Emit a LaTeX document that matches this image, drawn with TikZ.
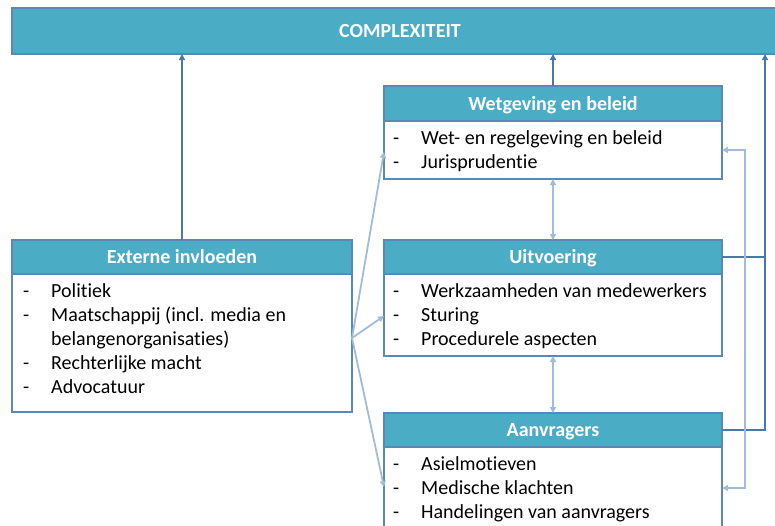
\documentclass[tikz,border=0pt]{standalone}
\usepackage{fontspec}
\setmainfont[Ligatures={NoCommon}]{Carlito}
\usetikzlibrary{arrows.meta}
\definecolor{hdrfill}{HTML}{4BACC6}
\definecolor{boxline}{HTML}{5A88B8}
\definecolor{darkarr}{HTML}{4A78A8}
\definecolor{lightarr}{HTML}{A2BCD8}
\tikzset{
  hdr/.style={rectangle, draw=boxline, fill=hdrfill, line width=1.2pt, inner sep=0pt, outer sep=0pt, text=white, font=\fontsize{20}{22}\selectfont\bfseries, text height=13pt, text depth=0pt, anchor=north west},
  bodybox/.style={rectangle, draw=boxline, fill=white, line width=1.2pt, inner sep=0pt, outer sep=0pt, anchor=north west},
  dashtxt/.style={anchor=base west, inner sep=0pt, font=\fontsize{20}{22}\selectfont},
  itemtxt/.style={anchor=base west, inner sep=0pt, font=\fontsize{20}{22}\selectfont},
  dk/.style={draw=darkarr, line width=1.8pt},
  dkarr/.style={dk, -{Triangle[length=6pt,width=6pt]}},
  lt/.style={draw=lightarr, line width=1.8pt},
  ltarr/.style={lt, -{Triangle[length=6pt,width=6pt]}},
  ltdbl/.style={lt, {Triangle[length=6pt,width=6pt]}-{Triangle[length=6pt,width=6pt]}}
}
\begin{document}
\begin{tikzpicture}[x=1pt,y=-1pt]
\useasboundingbox (0,0) rectangle (775,525);
\clip (0,0) rectangle (775,525);
% top box
\node[hdr, minimum width=790pt, minimum height=46pt] (top) at (12,8) {};
\node[font=\fontsize{20}{22}\selectfont\bfseries, text=white, inner sep=0pt, text height=13pt, text depth=0pt] (toptxt) at (400,31) {COMPLEXITEIT};
% Wetgeving
\node[hdr, minimum width=338pt, minimum height=35pt] (wh) at (384,86) {Wetgeving en beleid};
\node[bodybox, minimum width=338pt, minimum height=58pt] (wb) at (384,121) {};
\node[dashtxt] (wd1) at (393,144) {-};
\node[itemtxt] (wt1) at (421,144) {Wet- en regelgeving en beleid};
\node[dashtxt] (wd2) at (393,168) {-};
\node[itemtxt] (wt2) at (421,168) {Jurisprudentie};
% Uitvoering
\node[hdr, minimum width=338pt, minimum height=34pt] (uh) at (384,240) {Uitvoering};
\node[bodybox, minimum width=338pt, minimum height=82pt] (ub) at (384,274) {};
\node[dashtxt] (ud1) at (393,297) {-};
\node[itemtxt] (ut1) at (421,297) {Werkzaamheden van medewerkers};
\node[dashtxt] (ud2) at (393,321) {-};
\node[itemtxt] (ut2) at (421,321) {Sturing};
\node[dashtxt] (ud3) at (393,345) {-};
\node[itemtxt] (ut3) at (421,345) {Procedurele aspecten};
% Aanvragers
\node[hdr, minimum width=338pt, minimum height=34pt] (ah) at (384,413) {Aanvragers};
\node[bodybox, minimum width=338pt, minimum height=140pt] (ab) at (384,447) {};
\node[dashtxt] (ad1) at (393,470) {-};
\node[itemtxt] (at1) at (421,470) {Asielmotieven};
\node[dashtxt] (ad2) at (393,494) {-};
\node[itemtxt] (at2) at (421,494) {Medische klachten};
\node[dashtxt] (ad3) at (393,518) {-};
\node[itemtxt] (at3) at (421,518) {Handelingen van aanvragers};
% Externe invloeden
\node[hdr, minimum width=340pt, minimum height=34pt] (eh) at (12,240) {Externe invloeden};
\node[bodybox, minimum width=340pt, minimum height=138pt] (eb) at (12,274) {};
\node[dashtxt] (ed1) at (23,297) {-};
\node[itemtxt] (et1) at (51,297) {Politiek};
\node[dashtxt] (ed2) at (23,321) {-};
\node[itemtxt] (et2) at (51,321) {Maatschappij (incl. media en};
\node[itemtxt] (et3) at (51,345) {belangenorganisaties)};
\node[dashtxt] (ed4) at (23,369) {-};
\node[itemtxt] (et4) at (51,369) {Rechterlijke macht};
\node[dashtxt] (ed5) at (23,393) {-};
\node[itemtxt] (et5) at (51,393) {Advocatuur};
% coordinates
\coordinate (src) at (352,338);
\coordinate (wtip) at (384,152);
\coordinate (utip) at (384,316);
\coordinate (atip) at (384,487);
\coordinate (rline) at (765,54);
\coordinate (brk) at (745,300);
\coordinate (amid) at (722,488);
% dark arrows
\draw[dkarr] (eh.north) -- (eh.north |- top.south);
\draw[dkarr] (wh.north) -- (wh.north |- top.south);
\draw[dk] (uh.east) -- (uh.east -| rline);
\draw[dkarr] (ah.east) -| (rline);
% light arrows
\draw[ltarr] (src) -- (wtip);
\draw[ltarr] (src) -- (utip);
\draw[ltarr] (src) -- (atip);
\draw[ltdbl] (wb.south) -- (uh.north);
\draw[ltdbl] (ub.south) -- (ah.north);
\draw[ltdbl] (wb.east) -| (brk) |- (amid);
\end{tikzpicture}
\end{document}
